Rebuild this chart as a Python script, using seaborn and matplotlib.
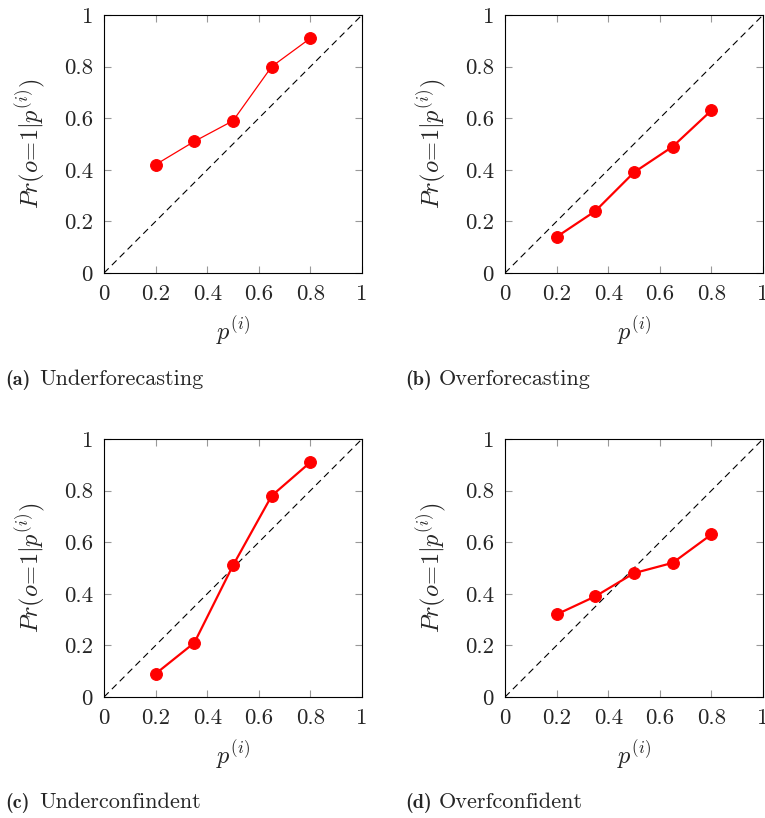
import matplotlib
matplotlib.use("Agg")
import matplotlib.pyplot as plt
import seaborn as sns
import pandas as pd

sns.set_style("ticks")
plt.rcParams["font.family"] = ["cmr10", "DejaVu Serif"]
plt.rcParams["mathtext.fontset"] = "cm"
plt.rcParams["axes.formatter.use_mathtext"] = True

# Data
p_bins = [0.2, 0.35, 0.5, 0.65, 0.8]
under_forecast = [0.42, 0.51, 0.59, 0.80, 0.91]
over_forecast = [0.14, 0.24, 0.39, 0.49, 0.63]
under_conf = [0.09, 0.21, 0.51, 0.78, 0.91]
over_conf = [0.32, 0.39, 0.48, 0.52, 0.63]
series = [under_forecast, over_forecast, under_conf, over_conf]
letters = ["(a)", "(b)", "(c)", "(d)"]
captions = ["Underforecasting", "Overforecasting", "Underconfindent", "Overfconfident"]
tick_vals = [0, 0.2, 0.4, 0.6, 0.8, 1]
tick_labels = ["0", "0.2", "0.4", "0.6", "0.8", "1"]
line_widths = [0.9, 1.6, 1.6, 1.6]

W, H = 765, 818
fig = plt.figure(figsize=(W / 100, H / 100), dpi=100)

lefts = [104, 505, 104, 505]
tops = [15, 15, 439, 439]
size = 258

for i, yvals in enumerate(series):
    ax = fig.add_axes([lefts[i] / W, 1 - (tops[i] + size) / H, size / W, size / H])
    df = pd.DataFrame({"p": p_bins, "obs": yvals})
    ax.axline((0, 0), slope=1, color="black", lw=0.8, ls=(0, (6, 4)))
    sns.lineplot(data=df, x="p", y="obs", ax=ax, color="red", lw=line_widths[i],
                 marker="o", markersize=8.5, markeredgecolor="red", zorder=3)
    ax.set_xlim(0, 1)
    ax.set_ylim(0, 1)
    ax.set_xticks(tick_vals)
    ax.set_xticklabels(tick_labels)
    ax.set_yticks(tick_vals)
    ax.set_yticklabels(tick_labels)
    ax.tick_params(direction="in", length=5, width=0.8, color="#999999",
                   labelsize=16.5, pad=8, top=True, right=True)
    for s in ax.spines.values():
        s.set_linewidth(0.8)
        s.set_color("black")
    ax.set_xlabel(r"$p^{(i)}$", fontsize=17.5, labelpad=8)
    ax.set_ylabel(r"$Pr(o\!=\!1|p^{(i)})$", fontsize=17.5, labelpad=12)

    cx = 5 if i % 2 == 0 else 405
    cy = 385 if i < 2 else 808
    fig.text(cx / W, 1 - cy / H, letters[i], fontsize=14.5, family=["cmb10", "DejaVu Serif"],
             fontweight="bold", va="baseline")
    fig.text((cx + 34) / W, 1 - cy / H, captions[i], fontsize=16, va="baseline")

fig.savefig("out.png", dpi=100)
